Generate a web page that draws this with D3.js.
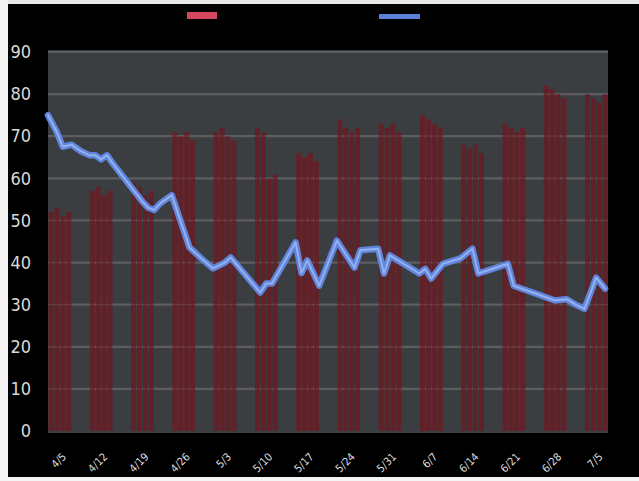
<!DOCTYPE html>
<html>
<head>
<meta charset="utf-8">
<script src="https://cdn.jsdelivr.net/npm/d3@7/dist/d3.min.js"></script>
<style>
  html, body { margin: 0; padding: 0; background: #000; }
  svg { display: block; }
</style>
</head>
<body>
<svg id="chart" width="639" height="481"></svg>
<script>
// Weekly tick labels (one per week start)
const tickDays = [0, 7, 14, 21, 28, 35, 42, 49, 56, 63, 70, 77, 84, 91];
const tickLabels = ["4/5", "4/12", "4/19", "4/26", "5/3", "5/10", "5/17",
                    "5/24", "5/31", "6/7", "6/14", "6/21", "6/28", "7/5"];

// Daily volume bars: day index and value
const barDays = [
  0, 1, 2, 3,  7, 8, 9, 10,  14, 15, 16, 17,  21, 22, 23, 24,
  28, 29, 30, 31,  35, 36, 37, 38,  42, 43, 44, 45,  49, 50, 51, 52,
  56, 57, 58, 59,  63, 64, 65, 66,  70, 71, 72, 73,  77, 78, 79, 80,
  84, 85, 86, 87,  91, 92, 93, 94
];
const barValues = [
  52, 53, 51, 52,  57, 58, 56, 57,  59, 58, 56, 57,  71, 70, 71, 69,
  71, 72, 70, 69,  72, 71, 60, 61,  66, 65, 66, 64,  74, 72, 71, 72,
  73, 72, 73, 71,  75, 74, 73, 72,  68, 67, 68, 66,  73, 72, 71, 72,
  82, 81, 80, 79,  80, 79, 78, 80
];

// Price line: day index and value
const lineDays = [
  0, 1.5, 2.5, 4, 5.5, 7, 8, 9, 10, 11, 16, 17, 18, 19, 21, 24, 26, 28,
  30, 31, 36, 37, 38, 42, 43, 44, 46, 49, 52, 53, 56, 57, 58, 63, 64, 65,
  67, 70, 72, 73, 78, 79, 86, 88, 89.5, 91, 93, 94.5
];
const lineValues = [
  75, 71, 67.5, 68, 66.5, 65.5, 65.5, 64.5, 65.5, 63.5, 54.5, 53, 52.5, 54, 56, 43.6, 41, 38.6,
  40, 41.2, 32.9, 35, 35, 44.8, 37.5, 40.5, 34.5, 45.2, 38.8, 42.9, 43.3, 37.4, 41.7, 37.4, 38.5, 36.2,
  39.7, 41, 43.3, 37.4, 39.7, 34.5, 31, 31.3, 30, 29, 36.4, 33.8
];

const yTicks = [0, 10, 20, 30, 40, 50, 60, 70, 80, 90];

const svg = d3.select("#chart");
const W = 639, H = 481;
const plot = { left: 48, right: 608, top: 50, bottom: 433 };

const x = d3.scaleLinear().domain([0, 95]).range([plot.left, plot.right]);
const y = d3.scaleLinear().domain([0, 90]).range([431, 52]);

// Background
svg.append("rect").attr("x", 0).attr("y", 0).attr("width", W).attr("height", H).attr("fill", "#000");

// Plot area
svg.append("rect")
  .attr("x", plot.left).attr("y", plot.top)
  .attr("width", plot.right - plot.left).attr("height", plot.bottom - plot.top)
  .attr("fill", "#3b3e40");

// Horizontal gridlines
svg.append("g").selectAll("line").data(yTicks.filter(d => d > 0)).join("line")
  .attr("x1", plot.left).attr("x2", plot.right)
  .attr("y1", d => y(d)).attr("y2", d => y(d))
  .attr("stroke", "#5b5e61").attr("stroke-width", 2.2);

// Bars
const dayW = x(1) - x(0);
svg.append("g").selectAll("rect").data(barDays.map((d, i) => ({ d, v: barValues[i] }))).join("rect")
  .attr("x", d => x(d.d) + dayW * 0.1)
  .attr("width", dayW * 0.85)
  .attr("y", d => y(d.v))
  .attr("height", d => y(0) - y(d.v))
  .attr("fill", "#651e26")
  .attr("opacity", 0.92);

// Gridlines show faintly through the bars
svg.append("g").selectAll("line").data(yTicks.filter(d => d > 0)).join("line")
  .attr("x1", plot.left).attr("x2", plot.right)
  .attr("y1", d => y(d)).attr("y2", d => y(d))
  .attr("stroke", "#6a5a60").attr("stroke-width", 1.2).attr("opacity", 0.35);

// Price line
const linePts = lineDays.map((d, i) => [x(d), y(lineValues[i])]);
const lineGen = d3.line().curve(d3.curveLinear);
svg.append("path").attr("d", lineGen(linePts))
  .attr("fill", "none").attr("stroke", "#5f84dc").attr("stroke-width", 6.5)
  .attr("stroke-linejoin", "round").attr("stroke-linecap", "round");
svg.append("path").attr("d", lineGen(linePts))
  .attr("fill", "none").attr("stroke", "#a3bcf3").attr("stroke-width", 2)
  .attr("stroke-linejoin", "round").attr("stroke-linecap", "round").attr("opacity", 0.8);

// Y axis labels
const yAxis = d3.axisLeft(y).tickValues(yTicks).tickSize(0).tickPadding(0).tickFormat(d3.format("d"));
const yg = svg.append("g").attr("transform", "translate(31,0)").call(yAxis);
yg.select(".domain").remove();
yg.selectAll("text")
  .attr("fill", "#d9d9d9")
  .attr("font-family", "'Liberation Sans Narrow', 'DejaVu Sans Condensed', sans-serif")
  .attr("font-size", 18);

// X axis labels (rotated)
const xAxis = d3.axisBottom(x).tickValues(tickDays).tickSize(0).tickFormat((d, i) => tickLabels[i]);
const xg = svg.append("g").attr("transform", "translate(0,452)").call(xAxis);
xg.select(".domain").remove();
xg.selectAll("text")
  .attr("fill", "#dcdcdc")
  .attr("font-family", "'Liberation Sans Narrow', 'DejaVu Sans Condensed', sans-serif")
  .attr("font-size", 11)
  .attr("text-anchor", "end")
  .attr("y", 0)
  .attr("dy", "0.7em")
  .attr("transform", "translate(13,0) rotate(-45)");

// Legend swatches
svg.append("rect").attr("x", 187).attr("y", 12).attr("width", 30).attr("height", 7).attr("fill", "#d4475e");
svg.append("rect").attr("x", 379).attr("y", 14).attr("width", 41).attr("height", 5).attr("fill", "#5b80d8");

// Frame edges
svg.append("rect").attr("x", 0).attr("y", 0).attr("width", W).attr("height", 4).attr("fill", "#e8e8e8");
svg.append("rect").attr("x", 0).attr("y", 0).attr("width", 8).attr("height", H).attr("fill", "#f4f4f4");
svg.append("rect").attr("x", 0).attr("y", 477).attr("width", W).attr("height", 4).attr("fill", "#f4f4f4");
</script>
</body>
</html>
